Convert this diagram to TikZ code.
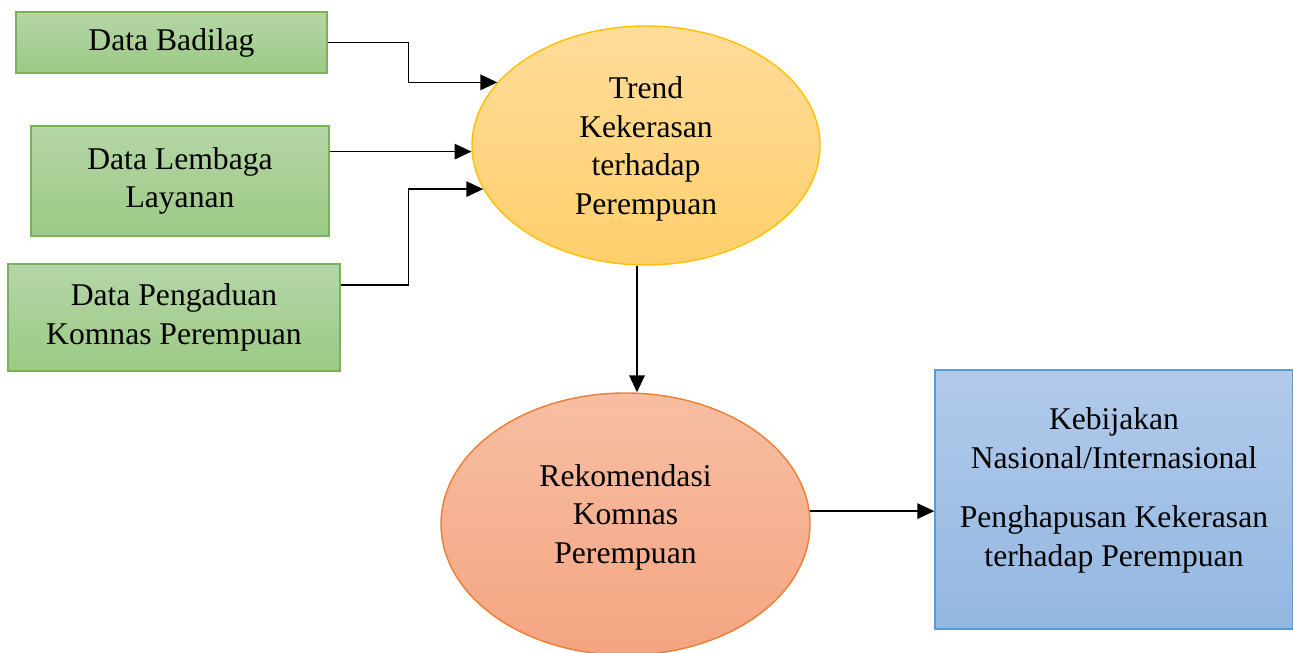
\documentclass[tikz,border=0pt]{standalone}
\usepackage{fontspec}
\setmainfont{Liberation Serif}
\usetikzlibrary{arrows.meta,shapes.geometric}

\definecolor{greentop}{HTML}{B5D6A7}
\definecolor{greenbot}{HTML}{9CC985}
\definecolor{greenline}{HTML}{7AB356}
\definecolor{yellowtop}{HTML}{FFDC9A}
\definecolor{yellowbot}{HTML}{FFCF6C}
\definecolor{yellowline}{HTML}{FFC000}
\definecolor{orangetop}{HTML}{F7BEA3}
\definecolor{orangebot}{HTML}{F4A582}
\definecolor{orangeline}{HTML}{ED7D31}
\definecolor{bluetop}{HTML}{B2CAEA}
\definecolor{bluebot}{HTML}{93B7E2}
\definecolor{blueline}{HTML}{5B9BD5}

\tikzset{
    labeltext/.style={align=center, inner sep=0pt, text=black, font=\fontsize{9}{11}\selectfont},
    databox/.style={labeltext, rectangle, draw=greenline, top color=greentop, bottom color=greenbot},
    trendbubble/.style={labeltext, ellipse, draw=yellowline, top color=yellowtop, bottom color=yellowbot},
    rekbubble/.style={labeltext, ellipse, draw=orangeline, top color=orangetop, bottom color=orangebot},
    policybox/.style={labeltext, rectangle, draw=blueline, top color=bluetop, bottom color=bluebot},
}

\begin{document}
\begin{tikzpicture}[>={Triangle[length=4.8pt,width=4.4pt]}]
    \useasboundingbox (0,0) rectangle (12.93,-6.53);

    % data sources
    \node[databox, minimum width=3.11cm, minimum height=0.61cm] (badilag) at (1.715,-0.425) {Data Badilag};
    \node[databox, minimum width=2.98cm, minimum height=1.10cm] (lembaga) at (1.80,-1.81) {Data Lembaga\\Layanan};
    \node[databox, minimum width=3.32cm, minimum height=1.07cm] (pengaduan) at (1.74,-3.175) {Data Pengaduan\\Komnas Perempuan};

    % trend and recommendation
    \node[trendbubble, minimum width=3.48cm, minimum height=2.39cm, text depth=0pt] (trend) at (6.46,-1.455) {Trend\\Kekerasan\\terhadap\\Perempuan};
    \node[rekbubble, minimum width=3.69cm, minimum height=2.62cm, text depth=0.2cm] (rek) at (6.255,-5.24) {Rekomendasi\\Komnas\\Perempuan};

    \node[policybox, minimum width=3.58cm, minimum height=2.59cm, text depth=0.25cm] (kebijakan) at (11.14,-4.995) {Kebijakan\\Nasional/Internasional\\[6pt]Penghapusan Kekerasan\\terhadap Perempuan};

    \draw[->] (badilag.east) -- ++(0.81,0) |- (trend.157);
    \draw[->] (lembaga.east |- trend.182) -- (trend.182);
    \draw[->] (pengaduan.11) -- ++(0.68,0) |- (trend.195);
    \draw[->] ([xshift=-0.09cm]trend.south) -- ([xshift=-0.09cm]trend.south |- rek.north);
    \draw[->] (rek.4) -- (rek.4 -| kebijakan.west);
\end{tikzpicture}
\end{document}
